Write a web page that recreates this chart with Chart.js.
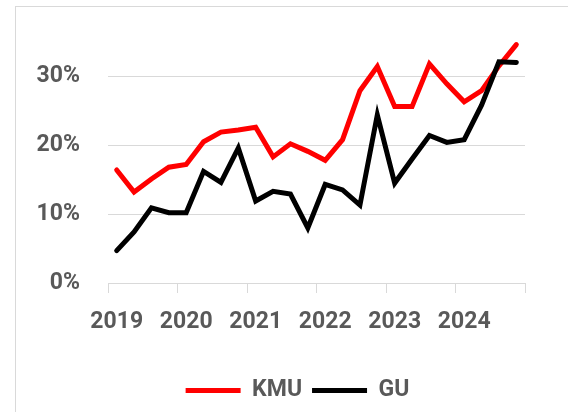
<!DOCTYPE html>
<html>
<head>
<meta charset="utf-8">
<script src="https://cdn.jsdelivr.net/npm/chart.js@4/dist/chart.umd.min.js"></script>
<style>
  body { margin: 0; background: #fff; }
  #wrap { position: relative; width: 568px; height: 412px; overflow: hidden; }
  #frame { position: absolute; left: 15px; top: 6px; width: 700px; height: 600px;
           border-left: 1px solid #d9d9d9; border-top: 1px solid #d9d9d9; }
  canvas { position: absolute; left: 0; top: 0; }
</style>
</head>
<body>
<div id="wrap">
  <div id="frame"></div>
  <canvas id="chart" width="568" height="412"></canvas>
</div>
<script>
const years = ["2019", "2020", "2021", "2022", "2023", "2024"];
const quarters = ["Q1", "Q2", "Q3", "Q4"];

// share in percent, quarterly
const kmu = [16.4, 13.2, 15.1, 16.8, 17.2, 20.5, 21.9, 22.2, 22.6, 18.3, 20.2, 19.1,
             17.8, 20.8, 27.9, 31.4, 25.6, 25.6, 31.8, 28.9, 26.3, 27.9, 31.5, 34.6];
const gu = [4.7, 7.4, 10.9, 10.2, 10.2, 16.2, 14.6, 19.6, 11.9, 13.3, 12.9, 8.0,
            14.3, 13.5, 11.3, 24.4, 14.5, 18.0, 21.4, 20.4, 20.8, 25.8, 32.1, 32.0];

const yTicks = [0, 10, 20, 30];

const labels = [];
years.forEach(y => quarters.forEach(q => labels.push(y + " " + q)));

const textColor = "#595959";
const gridColor = "#d9d9d9";
const font = { family: "Roboto", weight: "bold", size: 23 };

// nudge the legend to the right, like the original
const legendShift = {
  id: "legendShift",
  afterLayout(chart) {
    chart.legend.left += 22;
    chart.legend.right += 22;
  }
};

new Chart(document.getElementById("chart"), {
  type: "line",
  data: {
    labels: labels,
    datasets: [
      {
        label: "KMU",
        data: kmu,
        borderColor: "#ff0000",
        backgroundColor: "#ff0000",
        borderWidth: 5,
        borderCapStyle: "round",
        borderJoinStyle: "miter",
        pointRadius: 0,
        tension: 0,
        order: 1
      },
      {
        label: "GU",
        data: gu,
        borderColor: "#000000",
        backgroundColor: "#000000",
        borderWidth: 5,
        borderCapStyle: "round",
        borderJoinStyle: "miter",
        pointRadius: 0,
        tension: 0,
        order: 0
      }
    ]
  },
  plugins: [legendShift],
  options: {
    responsive: false,
    animation: false,
    layout: { padding: { left: 26, right: 43, top: 37, bottom: 0 } },
    plugins: {
      tooltip: { enabled: false },
      legend: {
        position: "bottom",
        labels: {
          usePointStyle: true,
          pointStyle: "line",
          pointStyleWidth: 55,
          color: textColor,
          font: font,
          padding: 10,
          sort: (a, b) => a.datasetIndex - b.datasetIndex
        }
      }
    },
    scales: {
      x: {
        offset: true,
        grid: {
          offset: true,
          drawOnChartArea: false,
          drawTicks: true,
          tickLength: 10,
          color: ctx => (ctx.index === undefined || ctx.index % 4 === 0) ? gridColor : "rgba(0,0,0,0)"
        },
        border: { display: true, color: gridColor, width: 1 },
        ticks: {
          autoSkip: false,
          maxRotation: 0,
          padding: 15,
          color: textColor,
          font: font,
          callback: function (v, i) { return i % 4 === 0 ? years[i / 4] : ""; }
        },
        afterFit: s => { s.height = 86; }
      },
      y: {
        min: 0,
        max: 35,
        afterBuildTicks: s => { s.ticks = yTicks.map(v => ({ value: v })); },
        grid: { color: gridColor, drawTicks: false, lineWidth: 1 },
        border: { display: false },
        ticks: {
          padding: 28,
          color: textColor,
          font: font,
          callback: v => v + "%"
        },
        afterFit: s => { s.width = 82; }
      }
    }
  }
});
</script>
</body>
</html>
